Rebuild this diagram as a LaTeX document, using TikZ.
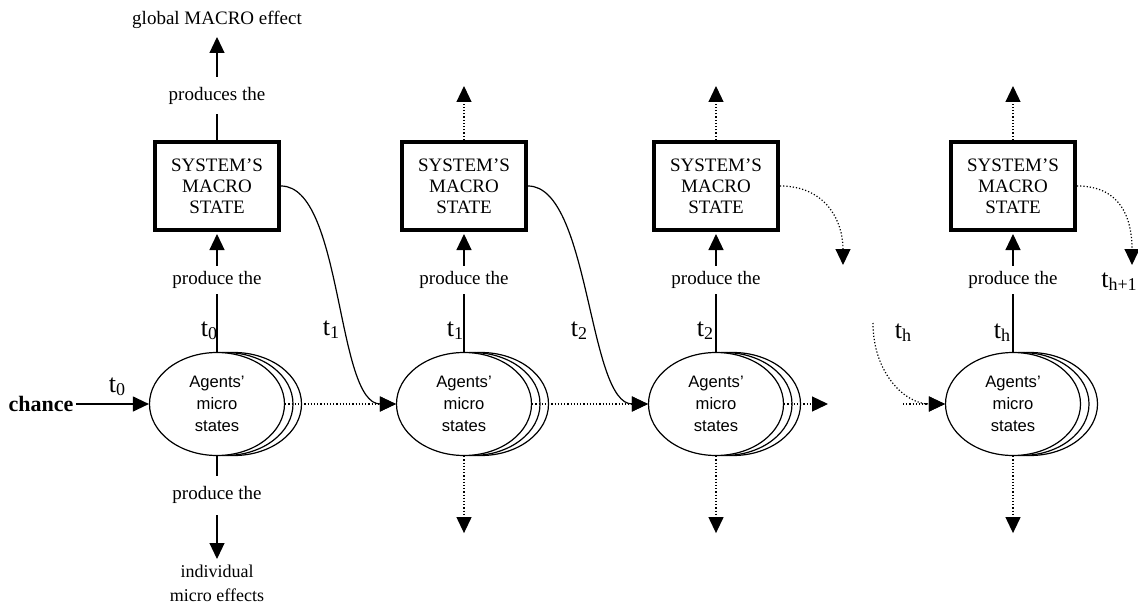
\documentclass[tikz,border=0pt]{standalone}
\usepackage{fontspec}
\setmainfont{Liberation Serif}
\setsansfont{Liberation Sans}
\usepackage{tikz}
\usetikzlibrary{arrows.meta,positioning,shapes.geometric,shadows}
\newcommand{\tsub}[1]{\fontsize{13}{14}\selectfont t\raisebox{-1.5pt}{\fontsize{9}{10}\selectfont #1}}

\begin{document}
\begin{tikzpicture}[
    x=0.5pt, y=-0.5pt,
    every node/.style={font=\fontsize{9.5}{10.5}\selectfont},
    macrobox/.style={draw,line width=2pt,minimum width=62pt,minimum height=44pt,
                     align=center,inner sep=0pt},
    agents/.style={ellipse,draw,fill=white,line width=0.6pt,
                   minimum width=67.5pt,minimum height=51.5pt,align=center,inner sep=0pt,
                   font=\sffamily\fontsize{8.3}{11}\selectfont,
                   copy shadow={shadow xshift=8.5pt,shadow yshift=0pt,draw=black,fill=white,line width=0.6pt},
                   copy shadow={shadow xshift=4.25pt,shadow yshift=0pt,draw=black,fill=white,line width=0.6pt}},
    arrow/.style={-{Triangle[length=8pt,width=7.5pt]},line width=0.6pt},
    dotarrow/.style={arrow,densely dotted},
    lbl/.style={fill=white,inner xsep=1pt,inner ysep=2.5pt}
  ]
    \useasboundingbox (0,0) rectangle (1138,609);

    % macro states
    \node[macrobox] (box1) at (217,186) {SYSTEM’S\\MACRO\\STATE};
    \node[macrobox] (box2) at (464,186) {SYSTEM’S\\MACRO\\STATE};
    \node[macrobox] (box3) at (716,186) {SYSTEM’S\\MACRO\\STATE};
    \node[macrobox] (box4) at (1013,186) {SYSTEM’S\\MACRO\\STATE};

    % micro states
    \node[agents] (ell1) at (217,404) {Agents’\\micro\\states};
    \node[agents] (ell2) at (464,404) {Agents’\\micro\\states};
    \node[agents] (ell3) at (716,404) {Agents’\\micro\\states};
    \node[agents] (ell4) at (1013,404) {Agents’\\micro\\states};

    \node[font=\bfseries\fontsize{11}{12}\selectfont,inner sep=1pt] (chance) at (41,404) {chance};
    \node[anchor=south,inner ysep=4pt] (glob) at (217,37) {global MACRO effect};
    \node[anchor=north,align=center,inner ysep=3pt,font=\fontsize{9}{12}\selectfont]
      (indiv) at (217,559) {individual\\micro effects};

    \coordinate (out3) at (843,265);
    \coordinate (out4) at (1132,265);
    \coordinate (next3) at (828,404);
    \coordinate (in4) at (873,323);
    \coordinate (into4) at (903,404);

    % time labels
    \node (tc) at (117,387) {\tsub{0}};
    \node (t0) at (209,331) {\tsub{0}};
    \node (t1a) at (331,330) {\tsub{1}};
    \node (t1b) at (455,331) {\tsub{1}};
    \node (t2a) at (579,331) {\tsub{2}};
    \node (t2b) at (705,331) {\tsub{2}};
    \node (tha) at (903,333) {\tsub{h}};
    \node (thb) at (1002,333) {\tsub{h}};
    \node (thn) at (1119,282) {\tsub{h+1}};

    % first step
    \draw[arrow] (chance) -- (ell1.west);
    \draw[arrow,shorten >=1pt] (ell1.north) -- node[lbl,pos=0.6] {produce the} (box1.south);
    \draw[arrow] (box1.north) -- node[lbl,pos=0.43,inner ysep=5pt] {produces the} (glob.south);
    \draw[arrow] (ell1.south) -- node[lbl,pos=0.38,inner ysep=5.5pt] {produce the} (indiv.north);

    % transitions
    \draw[arrow] (box1.east) .. controls +(62,0) and +(-60,0) .. (ell2.west);
    \draw[arrow] (box2.east) .. controls +(62,0) and +(-60,0) .. (ell3.west);
    \draw[dotarrow] (ell1.east) -- (ell2.west);
    \draw[dotarrow] (ell2.east) -- (ell3.west);
    \draw[dotarrow] (ell3.east) -- (next3);
    \draw[dotarrow] (box3.east) .. controls +(45,0) and +(0,-45) .. (out3);
    \draw[dotarrow] (box4.east) .. controls +(45,0) and +(0,-45) .. (out4);
    \draw[dotarrow] (in4) .. controls +(0,50) and +(-40,0) .. (ell4.west);
    \draw[dotarrow] (into4) -- (ell4.west);

    % later steps
    \draw[arrow,shorten >=1pt] (ell2.north) -- node[lbl,pos=0.6] {produce the} (box2.south);
    \draw[arrow,shorten >=1pt] (ell3.north) -- node[lbl,pos=0.6] {produce the} (box3.south);
    \draw[arrow,shorten >=1pt] (ell4.north) -- node[lbl,pos=0.6] {produce the} (box4.south);
    \draw[dotarrow] (box2.north) -- ++(0,-54);
    \draw[dotarrow] (box3.north) -- ++(0,-54);
    \draw[dotarrow] (box4.north) -- ++(0,-54);
    \draw[dotarrow] (ell2.south) -- ++(0,77);
    \draw[dotarrow] (ell3.south) -- ++(0,77);
    \draw[dotarrow] (ell4.south) -- ++(0,77);
  \end{tikzpicture}
\end{document}
